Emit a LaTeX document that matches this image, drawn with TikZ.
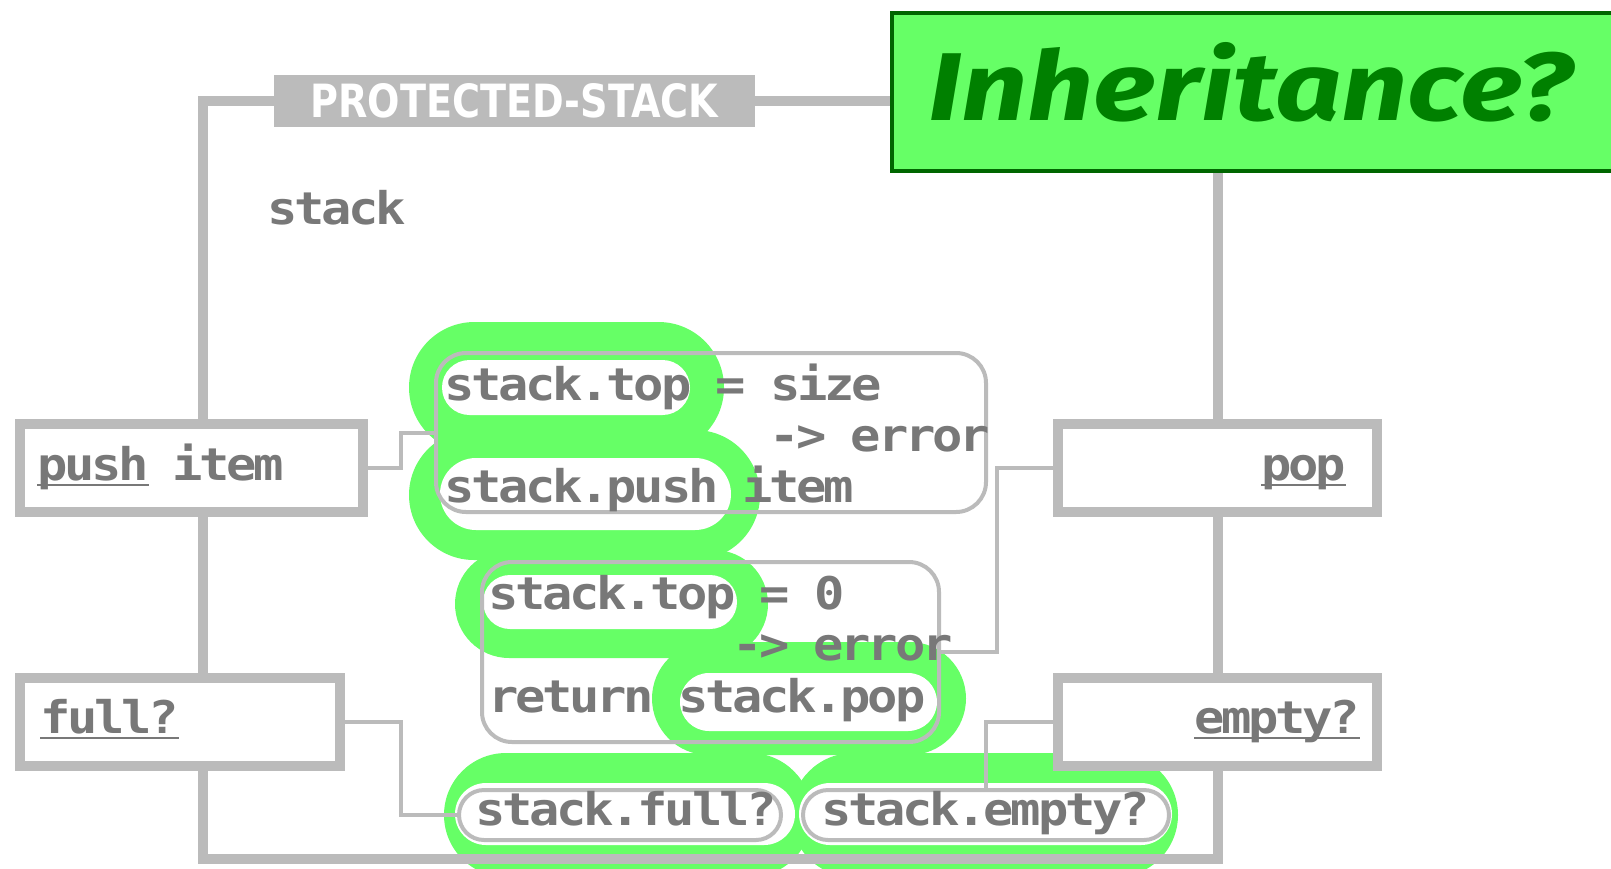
\documentclass[tikz,border=0pt]{standalone}
\usepackage{fontspec}
\usepackage{graphicx}
\usetikzlibrary{shapes.misc,calc}
\newfontfamily\codefont[FakeStretch=1.12,LetterSpace=-7.2,WordSpace=0.893]{DejaVu Sans Mono}
\newfontfamily\headfont[FakeStretch=0.9]{DejaVu Sans}
\newfontfamily\handfont{Fira Sans}
\definecolor{linegray}{RGB}{187,187,187}
\definecolor{textgray}{RGB}{120,120,120}
\definecolor{hlgreen}{RGB}{102,255,102}
\definecolor{darkgreen}{RGB}{0,102,0}
\definecolor{inkgreen}{RGB}{0,128,0}
\def\colw{27.09}
\begin{document}
\begin{tikzpicture}[x=1pt,y=-1pt,
  code/.style={font=\codefont\bfseries\fontsize{45}{45}\selectfont, text=textgray, inner sep=0pt, anchor=base west},
  hlo/.style={fill=hlgreen, rounded rectangle, inner sep=0pt},
  hli/.style={fill=white, rounded rectangle, inner sep=0pt},
  blk/.style={draw=linegray, line width=4pt, rounded corners=30pt, inner sep=0pt},
  pill/.style={draw=linegray, line width=4pt, rounded rectangle, inner sep=0pt},
  wire/.style={draw=linegray, line width=4pt},
  frame/.style={draw=linegray, line width=10pt},
  box/.style={draw=linegray, line width=10pt, fill=white, inner sep=0pt, minimum height=88pt},
  uline/.style={draw=textgray, line width=2.5pt}]
\useasboundingbox (0,0) rectangle (1611,868);
\clip (0,0) rectangle (1611,868);

% green highlight rings: outer fills first, then the white interiors
\node[hlo, minimum width=315pt, minimum height=131pt] (h1o) at (566.5,387.5) {};
\node[hlo, minimum width=351pt, minimum height=130pt] (h2o) at (584.5,495) {};
\node[hlo, minimum width=313pt, minimum height=108pt] (h3o) at (611.5,604) {};
\node[hlo, minimum width=314pt, minimum height=113pt] (h4o) at (809,698.5) {};
\node[hlo, minimum width=368pt, minimum height=124pt] (h5o) at (628,815) {};
\node[hlo, minimum width=387pt, minimum height=124pt] (h6o) at (984.5,815) {};
\node[hli, minimum width=248pt, minimum height=55pt] (h1i) at (566,387.5) {};
\node[hli, minimum width=291pt, minimum height=72pt] (h2i) at (585.5,494) {};
\node[hli, minimum width=254pt, minimum height=54pt] (h3i) at (610,602) {};
\node[hli, minimum width=257pt, minimum height=58pt] (h4i) at (808.5,702) {};
\node[hli, minimum width=340pt, minimum height=62pt] (h5i) at (625,814) {};
\node[hli, minimum width=373pt, minimum height=62pt] (h6i) at (985.5,814) {};

% code blocks and call outlines
\node[blk, minimum width=550pt, minimum height=159pt] (b1) at (711,432.5) {};
\node[blk, minimum width=457pt, minimum height=180pt] (b2) at (710.5,652) {};
\node[pill, minimum width=322pt, minimum height=50pt] (sfo) at (620,815) {};
\node[pill, minimum width=366pt, minimum height=50pt] (seo) at (986,815) {};

% method boxes
\node[box, minimum width=343pt] (push) at (191.5,468) {};
\node[box, minimum width=320pt] (full) at (180,722) {};
\node[box, minimum width=319pt] (pop) at (1217.5,468) {};
\node[box, minimum width=319pt] (empty) at (1217.5,722) {};

% connectors from methods to their code
\draw[wire] (push.east) -| ($(push.east)!.5!(b1.west)$) |- (b1.west);
\draw[wire] (full.east) -| ($(full.east)!.5!(sfo.west)$) |- (sfo.west);
\draw[wire] (pop.west) -| ($(pop.west)!.5!(b2.east)$) |- (b2.east);
\draw[wire] (empty.west) -| (seo.north);

% class header and title
\node[fill=linegray, minimum width=481pt, minimum height=52pt, inner sep=0pt, text=white] (lab) at (514.5,101)
  {\resizebox{408pt}{34pt}{\headfont\bfseries PROTECTED-STACK}};
\node[fill=hlgreen, draw=darkgreen, line width=4pt, minimum width=808pt, minimum height=158pt, inner sep=0pt] (inh) at (1296,92) {};
\node[anchor=base west, inner sep=0pt, text=inkgreen] (inhtxt) at (928,120)
  {\resizebox{644pt}{78pt}{\handfont\bfseries\itshape Inheritance?}};

% class frame
\coordinate (fl) at (203,101);
\coordinate (fb) at (203,859);
\draw[frame] (push.north -| fl) -- (fl) -- (lab.west);
\draw[frame] (lab.east) -- (lab.east -| inh.west);
\draw[frame] (inh.south -| pop.north) -- (pop.north);
\draw[frame] (push.south -| fl) -- (full.north -| fl);
\draw[frame] (pop.south) -- (empty.north);
\draw[frame] (full.south -| fl) -- (fb) -- (fb -| empty.south) -- (empty.south);

% texts
\node[code] (stk) at (267,224) {stack};
\node[code] (pushw) at (37,480) {push};
\node[code] (itemw) at ({37+5*\colw},480) {item};
\node[code] (fullw) at (40,733) {full?};
\node[code] (popw) at (1261,480) {pop};
\node[code] (emptyw) at (1194,733) {empty?};
\draw[uline] ([yshift=-5pt]pushw.base west) -- ([yshift=-5pt]pushw.base east);
\draw[uline] ([yshift=-5pt]fullw.base west) -- ([yshift=-5pt]fullw.base east);
\draw[uline] ([yshift=-5pt]popw.base west) -- ([yshift=-5pt]popw.base east);
\draw[uline] ([yshift=-5pt]emptyw.base west) -- ([yshift=-5pt]emptyw.base east);

\node[code] (t1a) at (444,400) {stack.top = size};
\node[code] (t1b) at ({444+12*\colw},451) {-> error};
\node[code] (t1c) at (444,502) {stack.push item};
\node[code] (t2a) at (488,609) {stack.top = 0};
\node[code] (t2b) at ({488+9*\colw},660) {-> error};
\node[code] (t2c) at (488,712) {return stack.pop};
\node[code] (t3a) at (475,825) {stack.full?};
\node[code] (t3b) at (821,825) {stack.empty?};
\end{tikzpicture}
\end{document}
